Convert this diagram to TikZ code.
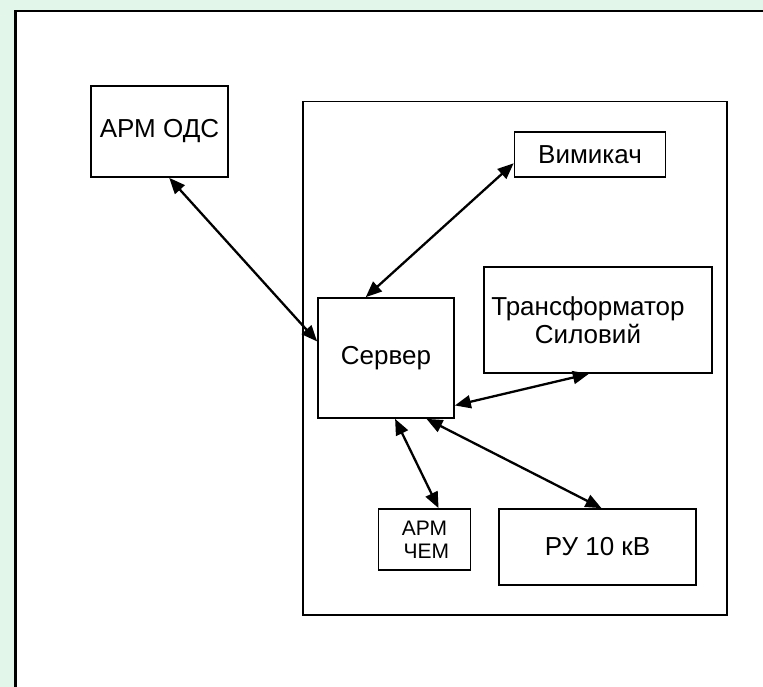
\documentclass[tikz,border=0pt]{standalone}
\usepackage{fontspec}
\setmainfont{Liberation Sans}
\usetikzlibrary{arrows.meta,calc}
\definecolor{mint}{RGB}{226,247,234}
\begin{document}
\begin{tikzpicture}[x=1pt,y=-1pt,
  blk/.style={draw,line width=1.7pt,inner sep=0pt,align=center,
    font=\fontsize{26}{28}\selectfont},
  link/.style={line width=2.3pt,{Triangle[length=16pt,width=13pt]}-{Triangle[length=16pt,width=13pt]}}]
% page and outer frame
\fill[mint] (0,0) rectangle (763,687);
\useasboundingbox (0,0) rectangle (763,687);
\fill[white] (15,10) rectangle (763,687);
\draw[line width=2.8pt] (15.8,687) -- (15.8,11) -- (763,11);

% substation boundary
\node[draw,line width=1.7pt,minimum width=424pt,minimum height=513.5pt,inner sep=0pt]
  (plant) at (515,358.25) {};

% blocks
\node[blk,minimum width=137pt,minimum height=91pt] (odc) at (159.5,131.5) {АРМ ОДС};
\node[blk,minimum width=151pt,minimum height=44.5pt] (vim) at (590,154.5) {Вимикач};
\node[blk,minimum width=228pt,minimum height=106pt] (trans) at (598,320) {};
\node[align=center,font=\fontsize{26}{28}\selectfont,inner sep=0pt] (transtext)
  at ($(trans.center)+(-10,0)$) {Трансформатор\\Силовий};
\node[blk,minimum width=136pt,minimum height=120pt] (serv) at (386,358) {Сервер};
\node[blk,minimum width=92pt,minimum height=61pt,font=\fontsize{21}{23}\selectfont]
  (chem) at (424.5,539.5) {АРМ\\ \,ЧЕМ};
\node[blk,minimum width=197pt,minimum height=76pt] (ru) at (597.5,547) {РУ 10 кВ};

% links to the server
\draw[link] ($(odc.south west)!0.57!(odc.south east)$) -- ($(serv.north west)!0.364!(serv.south west)$);
\draw[link] ($(vim.north west)!0.69!(vim.south west)$) -- ($(serv.north west)!0.353!(serv.north east)$);
\draw[link] ($(trans.south west)!0.46!(trans.south east)$) -- ($(serv.north east)!0.89!(serv.south east)$);
\draw[link] ($(serv.south west)!0.566!(serv.south east)$) -- ($(chem.north west)!0.65!(chem.north east)$);
\draw[link] ($(serv.south west)!0.794!(serv.south east)$) -- ($(ru.north west)!0.52!(ru.north east)$);
\end{tikzpicture}
\end{document}
